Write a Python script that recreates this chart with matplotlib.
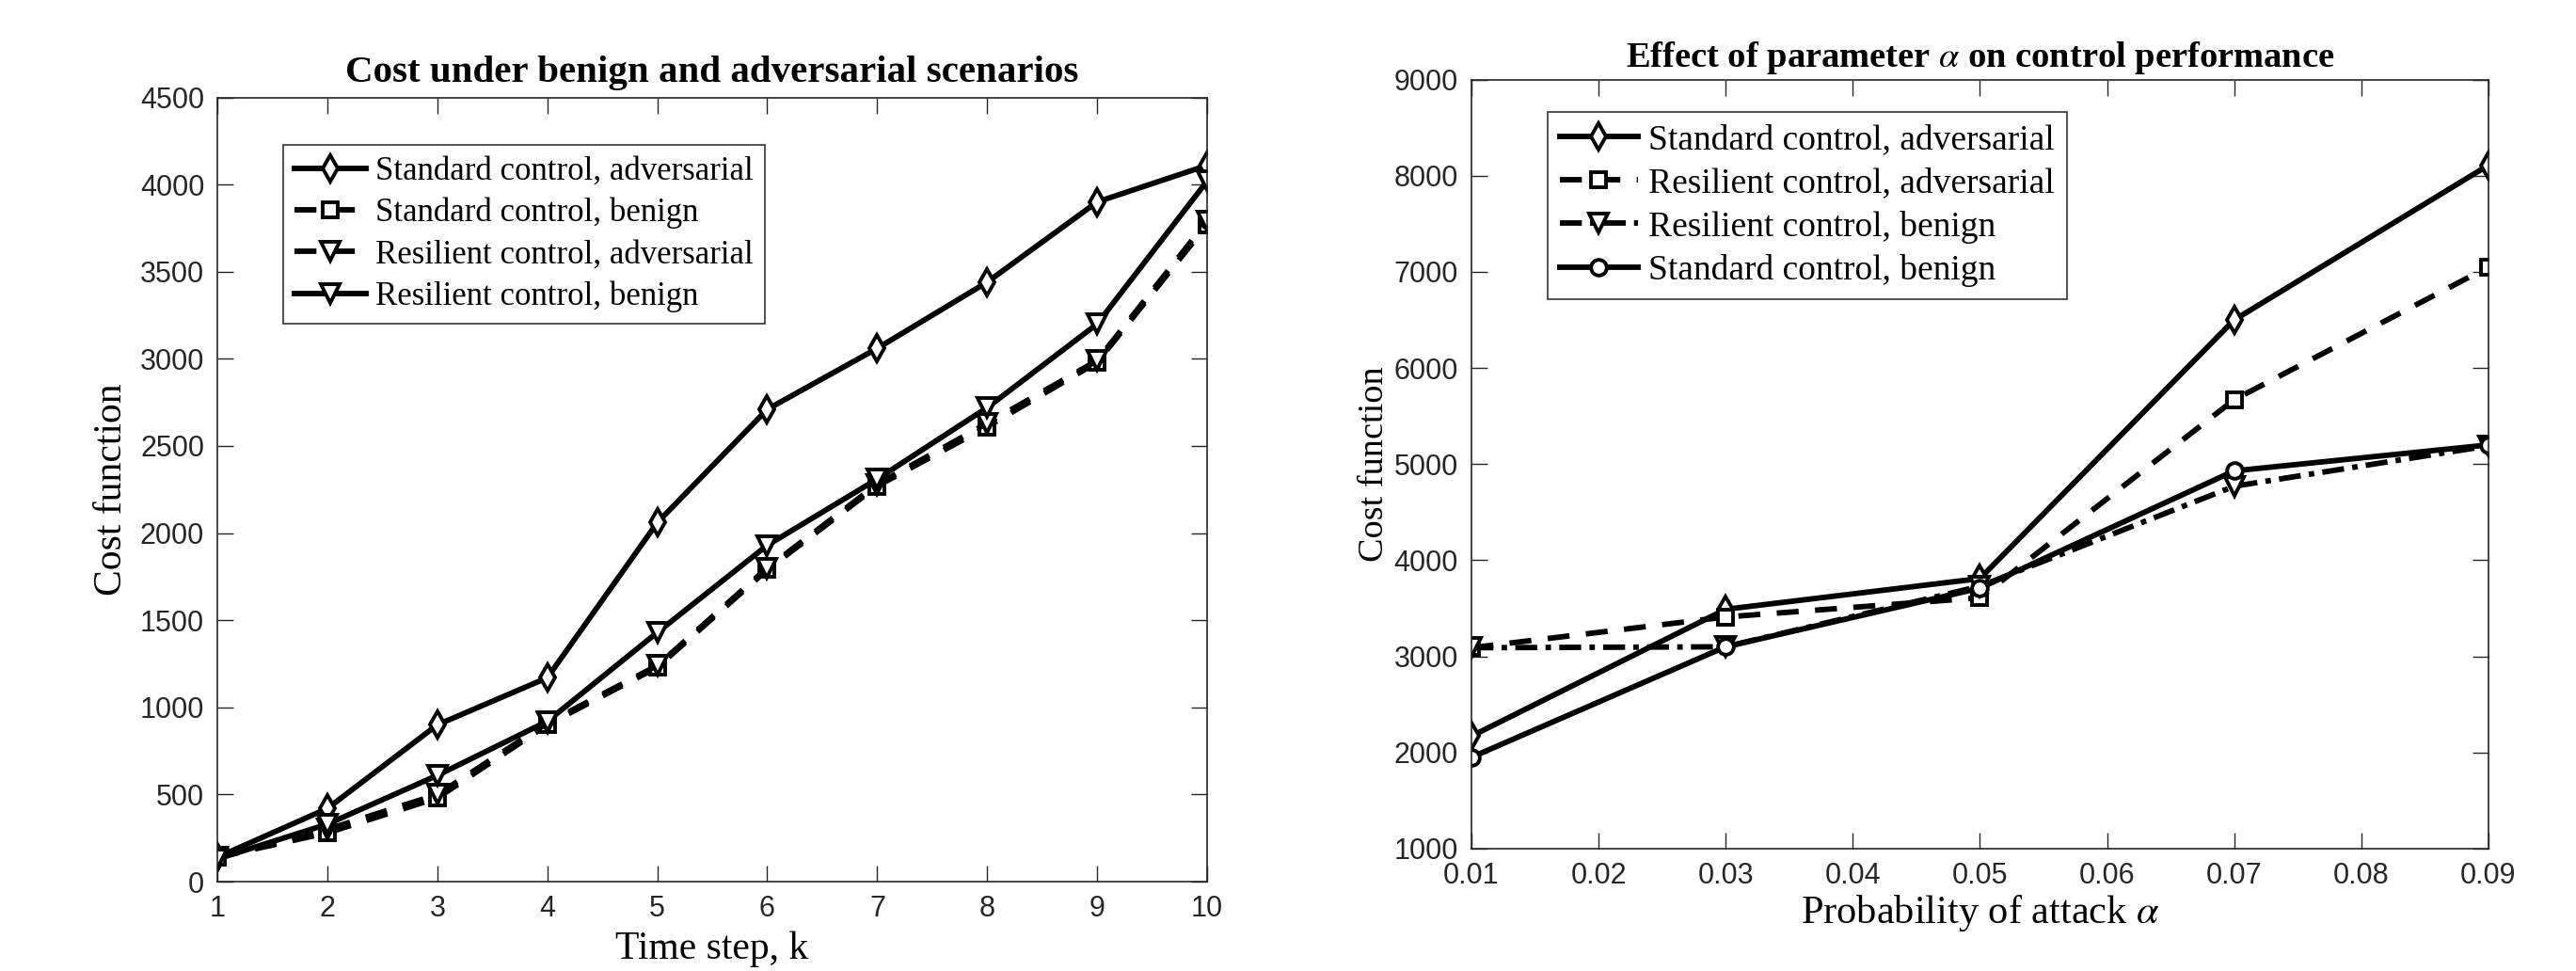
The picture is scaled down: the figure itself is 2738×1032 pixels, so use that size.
import matplotlib
matplotlib.use("Agg")
import matplotlib.pyplot as plt

plt.rcParams['mathtext.fontset'] = 'stix'

# ---- Left chart data ----
k_steps = [1, 2, 3, 4, 5, 6, 7, 8, 9, 10]
std_adv_k = [140, 420, 900, 1170, 2060, 2710, 3060, 3440, 3900, 4110]
std_ben_k = [140, 280, 480, 900, 1230, 1790, 2270, 2610, 2980, 3770]
res_adv_k = [140, 300, 500, 910, 1240, 1800, 2280, 2630, 2990, 3790]
res_ben_k = [130, 330, 610, 920, 1430, 1930, 2310, 2720, 3200, 4020]
left_labels = ['Standard control, adversarial', 'Standard control, benign',
               'Resilient control, adversarial', 'Resilient control, benign']

# ---- Right chart data ----
alpha = [0.01, 0.03, 0.05, 0.07, 0.09]
std_adv_a = [2170, 3490, 3810, 6500, 8110]
res_adv_a = [3090, 3410, 3610, 5670, 7050]
res_ben_a = [3090, 3100, 3730, 4770, 5190]
std_ben_a = [1950, 3100, 3710, 4930, 5200]
right_labels = ['Standard control, adversarial', 'Resilient control, adversarial',
                'Resilient control, benign', 'Standard control, benign']

fig = plt.figure(figsize=(27.38, 10.32), dpi=100)
ax1 = fig.add_axes([0.0844, 0.092, 0.3842, 0.8077])
ax2 = fig.add_axes([0.5712, 0.126, 0.3948, 0.792])

lw = 4.2
ms = 14
mew = 2.8
serif = 'Liberation Serif'
sans = 'Liberation Sans'

def style(ax):
    ax.tick_params(direction='in', length=12, width=1, top=True, right=True,
                   labelsize=22, pad=10, colors='#262626')
    for lab in ax.get_xticklabels() + ax.get_yticklabels():
        lab.set_family(sans)
    for s in ax.spines.values():
        s.set_linewidth(1.2)
        s.set_color('#262626')

ax1.plot(k_steps, std_adv_k, '-', color='k', lw=lw, marker='d', ms=ms, mew=mew, mfc='white', label=left_labels[0])
ax1.plot(k_steps, std_ben_k, '--', color='k', lw=lw, marker='s', ms=ms-3, mew=mew, mfc='white', label=left_labels[1], dashes=(4, 3))
ax1.plot(k_steps, res_adv_k, '--', color='k', lw=lw, marker='v', ms=ms, mew=mew, mfc='white', label=left_labels[2], dashes=(4, 3))
ax1.plot(k_steps, res_ben_k, '-', color='k', lw=lw, marker='v', ms=ms, mew=mew, mfc='white', label=left_labels[3])
ax1.set_xlim(1, 10)
ax1.set_ylim(0, 4500)
ax1.set_xticks(k_steps)
ax1.set_yticks(range(0, 4501, 500))
style(ax1)
ax1.set_title('Cost under benign and adversarial scenarios', family=serif,
              fontweight='bold', fontsize=29.5, pad=12)
ax1.set_xlabel('Time step, k', family=serif, fontsize=30, labelpad=6)
ax1.set_ylabel('Cost function', family=serif, fontsize=30, labelpad=8)
leg1 = ax1.legend(loc='upper left', bbox_to_anchor=(0.066, 0.94), prop={'family': serif, 'size': 25},
                  fancybox=False, edgecolor='#333333', framealpha=1, handlelength=2.2,
                  handletextpad=0.3, borderpad=0.35, labelspacing=0.32, borderaxespad=0)
leg1.get_frame().set_linewidth(1.2)

ax2.plot(alpha, std_adv_a, '-', color='k', lw=lw, marker='d', ms=ms, mew=mew, mfc='white', label=right_labels[0])
ax2.plot(alpha, res_adv_a, '--', color='k', lw=lw, marker='s', ms=ms-3, mew=mew, mfc='white', label=right_labels[1], dashes=(4, 3))
ax2.plot(alpha, res_ben_a, '-.', color='k', lw=lw, marker='v', ms=ms, mew=mew, mfc='white', label=right_labels[2], dashes=(4, 1.5, 1, 1.5))
ax2.plot(alpha, std_ben_a, '-', color='k', lw=lw, marker='o', ms=ms-2, mew=mew, mfc='white', label=right_labels[3])
ax2.set_xlim(0.01, 0.09)
ax2.set_ylim(1000, 9000)
ax2.set_xticks([0.01, 0.02, 0.03, 0.04, 0.05, 0.06, 0.07, 0.08, 0.09])
ax2.set_xticklabels(['0.01', '0.02', '0.03', '0.04', '0.05', '0.06', '0.07', '0.08', '0.09'])
ax2.set_yticks(range(1000, 9001, 1000))
style(ax2)
ax2.set_title(r'Effect of parameter $\alpha$ on control performance', family=serif,
              fontweight='bold', fontsize=27.7, pad=10)
ax2.set_xlabel(r'Probability of attack $\alpha$', family=serif, fontsize=30.5, labelpad=2)
ax2.set_ylabel('Cost function', family=serif, fontsize=27.5, labelpad=3)
leg2 = ax2.legend(loc='upper left', bbox_to_anchor=(0.075, 0.958), prop={'family': serif, 'size': 27},
                  fancybox=False, edgecolor='#333333', framealpha=1, handlelength=2.2,
                  handletextpad=0.3, borderpad=0.35, labelspacing=0.3, borderaxespad=0)
leg2.get_frame().set_linewidth(1.2)

fig.savefig('out.png', dpi=100)
